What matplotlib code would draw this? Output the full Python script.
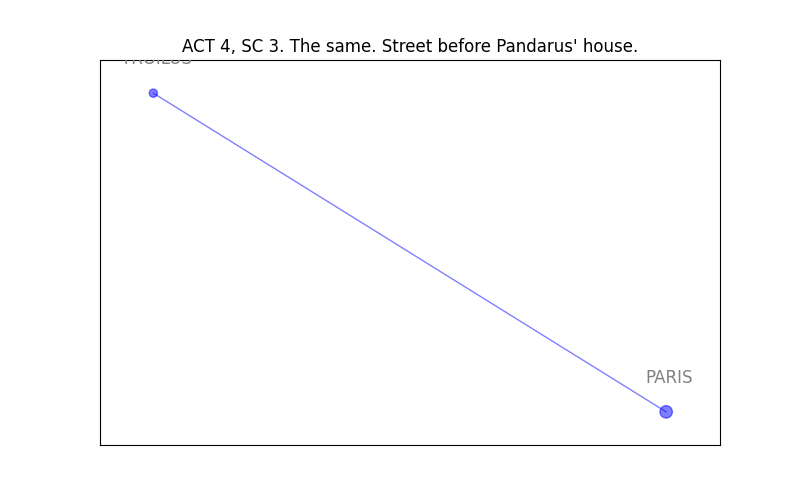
import matplotlib
matplotlib.use("Agg")
import matplotlib.pyplot as plt

nodes = ["TROILUS", "PARIS"]
xs = [0.0, 1.0]
ys = [1.0, 0.0]
sizes = [35, 80]
edges = [("TROILUS", "PARIS")]

fig, ax = plt.subplots(figsize=(8, 5), dpi=100)
idx = {n: i for i, n in enumerate(nodes)}
for a, b in edges:
    ax.plot([xs[idx[a]], xs[idx[b]]], [ys[idx[a]], ys[idx[b]]], color="blue", alpha=0.5, lw=1, zorder=1)
ax.scatter(xs, ys, s=sizes, color="blue", alpha=0.5, zorder=2)
for n, x, y in zip(nodes, xs, ys):
    ax.annotate(n, (x, y), xytext=(3, 34), textcoords="offset pixels", ha="center", va="center",
                fontsize=12, color="gray", annotation_clip=False, clip_on=True)
ax.set_xlim(-0.104, 1.105)
ax.set_ylim(-0.104, 1.104)
ax.set_xticks([]); ax.set_yticks([])
ax.set_title("ACT 4, SC 3. The same. Street before Pandarus' house.")
fig.savefig("out.png")
